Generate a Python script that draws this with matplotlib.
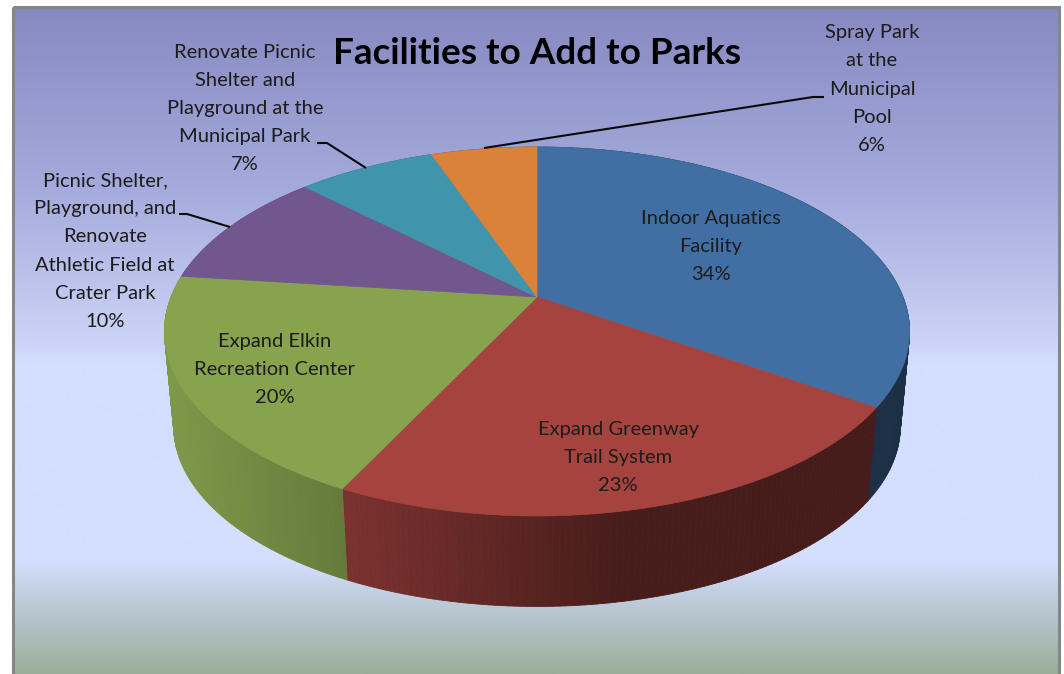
import numpy as np
import matplotlib
matplotlib.use("Agg")
import matplotlib.pyplot as plt
from matplotlib.patches import Polygon, Rectangle
from matplotlib.collections import PolyCollection
from matplotlib.colors import to_rgb

title = "Facilities to Add to Parks"
categories = [
    "Indoor Aquatics\nFacility",
    "Expand Greenway\nTrail System",
    "Expand Elkin\nRecreation Center",
    "Picnic Shelter,\nPlayground, and\nRenovate\nAthletic Field at\nCrater Park",
    "Renovate Picnic\nShelter and\nPlayground at the\nMunicipal Park",
    "Spray Park\nat the\nMunicipal\nPool",
]
values = [34.4, 22.9, 19.6, 10.4, 7.2, 5.5]
percent_labels = ["34%", "23%", "20%", "10%", "7%", "6%"]
colors = ["#426FA3", "#A5433F", "#87A34E", "#71578C", "#4095AC", "#DA813A"]

# label centres (pixels) follow the slice order
label_pos = [(711, 246.5), (618, 457.5), (275, 369.5), (105, 251), (245, 108.5), (872, 89)]

W, H = 1064, 674
fig = plt.figure(figsize=(W / 100, H / 100), dpi=100, facecolor="white")
ax = fig.add_axes([0, 0, 1, 1])

# background gradient
L, T, R = 13, 7, 1059
stops_y = [T, 190, 345, 365, 562, 590, H]
stops_c = np.array([to_rgb(c) for c in
                    ["#8789C1", "#A5ABDC", "#CCD5F7", "#D4DEFF", "#D4DEFF", "#C3D0E4", "#9BAE9A"]])
ys = np.linspace(T, H, 668)
grad = np.stack([np.interp(ys, stops_y, stops_c[:, i]) for i in range(3)], axis=1)[:, None, :]
ax.imshow(grad, extent=[L, R, H, T], aspect="auto", interpolation="bilinear", zorder=0)
ax.add_patch(Rectangle((L, T), R - L, H - T + 5, fill=False, ec="#868686", lw=2.2, zorder=1))

# perspective projection of a unit circle
CX, CY, A, B, K = 537.0, 297.0, 366.0, 178.0, 0.187
BOT_SCALE, BOT_CY = 0.975, 393.0

def top_pt(theta):
    u, v = np.sin(theta), np.cos(theta)
    d = 1 + K * v
    return CX + A * u / d, CY - B * v / d

def bot_pt(theta):
    x, y = top_pt(theta)
    return CX + (x - CX) * BOT_SCALE, BOT_CY + (y - CY) * BOT_SCALE

shade_x = [170, 343, 620, 910]
shade_f = [0.93, 0.75, 0.43, 0.42]

fractions = np.array(values, dtype=float) / np.sum(values)
edges = np.concatenate([[0], np.cumsum(fractions)]) * 2 * np.pi

# side walls
for i, col in enumerate(colors):
    th = np.linspace(edges[i], edges[i + 1], max(int((edges[i + 1] - edges[i]) * 70), 4))
    xt, yt = top_pt(th)
    xb, yb = bot_pt(th)
    quads, fc = [], []
    base = np.array(to_rgb(col))
    for j in range(len(th) - 1):
        quads.append([(xt[j], yt[j]), (xt[j + 1], yt[j + 1]), (xb[j + 1], yb[j + 1]), (xb[j], yb[j])])
        fc.append(base * np.interp((xt[j] + xt[j + 1]) / 2, shade_x, shade_f))
    ax.add_collection(PolyCollection(quads, facecolors=fc, edgecolors=fc, linewidths=0.6, zorder=2))

# top face
for i, col in enumerate(colors):
    th = np.linspace(edges[i], edges[i + 1], 120)
    xt, yt = top_pt(th)
    pts = np.column_stack([np.r_[CX, xt], np.r_[CY, yt]])
    ax.add_patch(Polygon(pts, closed=True, fc=col, ec=col, lw=0.5, zorder=3))

# leader lines
leaders = [
    [(230, 227), (187, 214), (179, 214)],
    [(366, 168), (327, 143), (317, 143)],
    [(484, 148), (813, 97), (824, 97)],
]
for ln in leaders:
    ax.plot(*zip(*ln), color="#0a0a0a", lw=1.5, zorder=4, solid_capstyle="butt")

# labels
FONT = "Lato"
for cat, p, (x, y) in zip(categories, percent_labels, label_pos):
    ax.text(x, y, f"{cat}\n{p}", ha="center", va="center", family=FONT, fontsize=14.5,
            color="#1c1c1c", linespacing=1.8, zorder=5)
ax.text(537, 53, title, ha="center", va="center", family=FONT, fontsize=26.6,
        fontweight="bold", color="black", zorder=5)

ax.set_xlim(0, W)
ax.set_ylim(H, 0)
ax.axis("off")
fig.savefig("out.png", dpi=100, facecolor="white")
